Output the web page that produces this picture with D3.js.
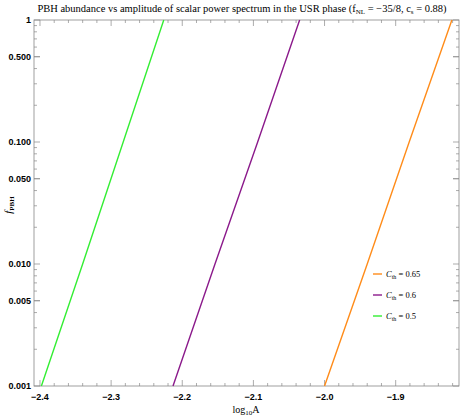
<!DOCTYPE html>
<html><head><meta charset="utf-8">
<script src="https://cdn.jsdelivr.net/npm/d3@7"></script>
<style>body{margin:0;background:#fff}</style></head>
<body><svg id="chart" width="463" height="420"></svg>
<script>
// curves: log10A where f_PBH crosses each level
const fLevels = [0.001, 0.01, 0.1, 1];
const green = [-2.398, -2.340, -2.283, -2.226];
const purple = [-2.213, -2.154, -2.094, -2.035];
const orange = [-2.000, -1.940, -1.881, -1.821];
const seriesNames = ["\u2102th = 0.65", "\u2102th = 0.6", "\u2102th = 0.5"];
const seriesColors = ["#ff8c1a", "#8b1a8b", "#33ee33"];
const xTicks = [-2.4, -2.3, -2.2, -2.1, -2.0, -1.9];
const yTicks = [0.001, 0.005, 0.01, 0.05, 0.1, 0.5, 1];
const yTickLabels = ["0.001", "0.005", "0.010", "0.050", "0.100", "0.500", "1"];

const svg = d3.select("#chart");
const m = {l: 34, r: 459, t: 20, b: 386};
const x = d3.scaleLinear().domain([-2.4084, -1.811]).range([m.l, m.r]);
const y = d3.scaleLog().domain([0.001, 1]).range([m.b, m.t]);

svg.append("rect").attr("x", m.l).attr("y", m.t).attr("width", m.r - m.l).attr("height", m.b - m.t)
    .attr("fill", "none").attr("stroke", "#888").attr("stroke-width", 0.8);

const minorX = d3.range(-2.40, -1.81, 0.02);
const minorY = [];
[0.001, 0.01, 0.1].forEach(d => { for (let k = 2; k <= 9; k++) minorY.push(d * k); });

const tickG = svg.append("g").attr("stroke", "#888").attr("stroke-width", 0.7);
minorX.forEach(v => {
    const major = xTicks.some(t => Math.abs(t - v) < 1e-6);
    const len = major ? 6 : 3;
    tickG.append("line").attr("x1", x(v)).attr("x2", x(v)).attr("y1", m.b).attr("y2", m.b - len);
    tickG.append("line").attr("x1", x(v)).attr("x2", x(v)).attr("y1", m.t).attr("y2", m.t + len);
});
minorY.concat(yTicks).forEach(v => {
    const major = yTicks.includes(v);
    const len = major ? 6 : 3;
    tickG.append("line").attr("x1", m.l).attr("x2", m.l + len).attr("y1", y(v)).attr("y2", y(v));
    tickG.append("line").attr("x1", m.r).attr("x2", m.r - len).attr("y1", y(v)).attr("y2", y(v));
});

svg.append("g").selectAll("text").data(xTicks).join("text")
    .attr("x", d => x(d)).attr("y", m.b + 14).attr("text-anchor", "middle")
    .attr("font-family", "Liberation Sans Narrow, Liberation Sans").attr("font-weight", "bold").attr("font-size", 9)
    .text(d => "\u2212" + Math.abs(d).toFixed(1));
svg.append("g").selectAll("text").data(yTicks).join("text")
    .attr("x", m.l - 3).attr("y", d => y(d) + 3).attr("text-anchor", "end")
    .attr("font-family", "Liberation Sans Narrow, Liberation Sans").attr("font-weight", "bold").attr("font-size", 9)
    .text((d, i) => yTickLabels[i]);

const line = d3.line().x(d => x(d[0])).y(d => y(d[1]));
[orange, purple, green].forEach((s, i) => {
    svg.append("path").datum(s.map((v, j) => [v, fLevels[j]]))
        .attr("d", line).attr("fill", "none").attr("stroke", seriesColors[i]).attr("stroke-width", 1.4);
});

// legend
seriesNames.forEach((n, i) => {
    const ly = 274 + i * 21;
    svg.append("line").attr("x1", 373).attr("x2", 382).attr("y1", ly).attr("y2", ly)
        .attr("stroke", seriesColors[i]).attr("stroke-width", 1.4);
    const t = svg.append("text").attr("x", 386).attr("y", ly + 3)
        .attr("font-family", "Liberation Serif").attr("font-size", 8.5);
    t.append("tspan").attr("font-style", "italic").text("C");
    t.append("tspan").attr("font-size", 6).attr("dy", 2).text("th");
    t.append("tspan").attr("dy", -2).text(" = " + n.split("= ")[1]);
});

// title
const title = svg.append("text").attr("x", 242).attr("y", 12).attr("text-anchor", "middle")
    .attr("font-family", "Liberation Serif").attr("font-size", 10.5);
title.append("tspan").text("PBH abundance vs amplitude of scalar power spectrum in the USR phase (f");
title.append("tspan").attr("font-size", 7).attr("dy", 2).text("NL");
title.append("tspan").attr("dy", -2).text(" = \u221235/8,  c");
title.append("tspan").attr("font-size", 7).attr("dy", 2).text("s");
title.append("tspan").attr("dy", -2).text("  =  0.88)");

// axis labels
const xl = svg.append("text").attr("x", 246).attr("y", 413).attr("text-anchor", "middle")
    .attr("font-family", "Liberation Serif").attr("font-size", 10);
xl.append("tspan").text("log");
xl.append("tspan").attr("font-size", 7).attr("dy", 2).text("10");
xl.append("tspan").attr("dy", -2).text("A");
const yl = svg.append("text").attr("transform", "translate(12,205) rotate(-90)").attr("text-anchor", "middle")
    .attr("font-family", "Liberation Serif").attr("font-size", 11).attr("font-style", "italic");
yl.append("tspan").text("f");
yl.append("tspan").attr("font-size", 7).attr("font-style", "normal").attr("font-weight", "bold").attr("dy", 2).text("PBH");
</script></body></html>
